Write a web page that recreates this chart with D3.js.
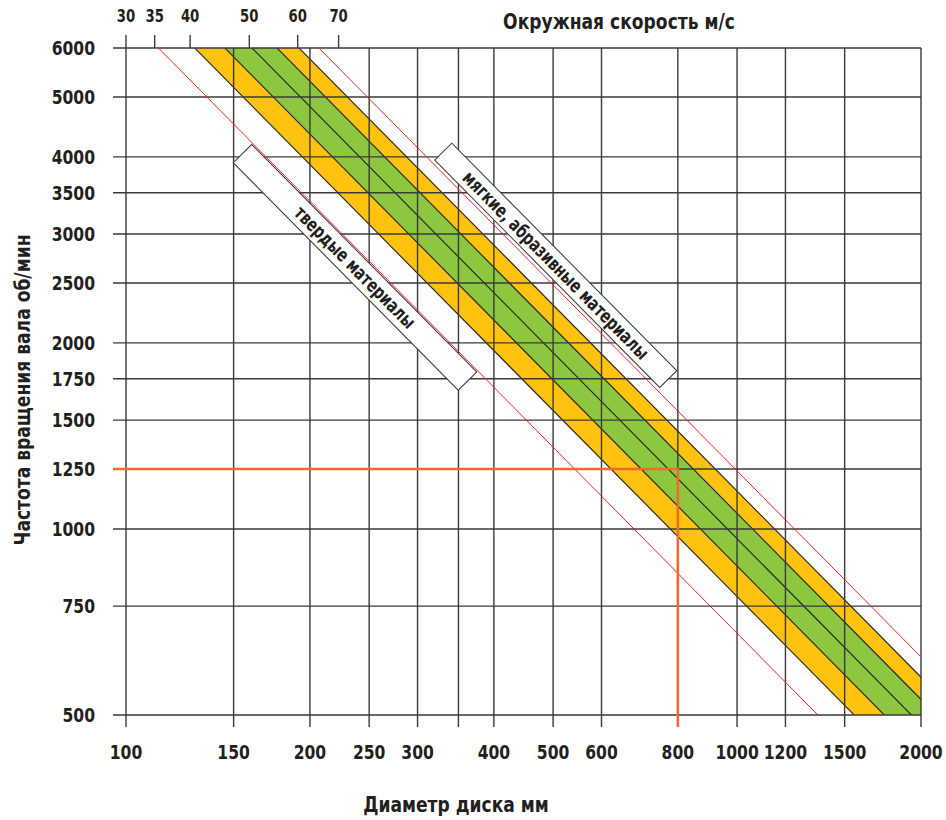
<!DOCTYPE html>
<html>
<head>
<meta charset="utf-8">
<script src="https://cdn.jsdelivr.net/npm/d3@7"></script>
<style>
	body { margin: 0; background: #fff; }
	svg text { font-family: "Liberation Sans Narrow", "Arial Narrow", "DejaVu Sans Condensed", sans-serif; fill: #231f20; }
</style>
</head>
<body>
<svg width="946" height="820"></svg>
<script>
// diameter (mm) grid + labels
var diameters = [100, 150, 200, 250, 300, 350, 400, 500, 600, 800, 1000, 1200, 1500, 2000];
var diameterLabels = ["100", "150", "200", "250", "300", "", "400", "500", "600", "800", "1000", "1200", "1500", "2000"];
// spindle speed (rpm) grid
var rpms = [6000, 5000, 4000, 3500, 3000, 2500, 2000, 1750, 1500, 1250, 1000, 750, 500];
// peripheral speed ticks on top (m/s)
var speedTicks = [30, 35, 40, 50, 60, 70];
// bands of peripheral speed, m/s
var yellowBands = [[40.7, 45.6], [55.5, 60.3]];
var greenBand = [45.6, 55.5];
var blackLines = [40.7, 45.6, 50.5, 55.5, 60.3];
var redLines = [35.5, 65];
// material labels, anchored at (diameter, rpm)
var labelText = ["твердые материалы", "мягкие, абразивные материалы"];
var labelDia = [237, 505];
var labelRpm = [2650, 2670];
// worked example
var exampleDia = 800, exampleRpm = 1250;

var svg = d3.select("svg");

var x = d3.scaleLog().domain([100, 2000]).range([126, 921]);
var y = d3.scaleLog().domain([500, 6000]).range([715, 48]);

var K = 60000 / Math.PI;
function rpmAt(v, d) { return v * K / d; }
function diaAt(v, n) { return v * K / n; }

// straight in log-log, two far points are enough, clip does the rest
function edge(v) {
	return [60, 4000].map(function(d) { return [x(d), y(rpmAt(v, d))]; });
}

// measure fonts so the narrow look survives a missing narrow face
function measure(str, size, weight) {
	var t = svg.append("text").style("font-size", size + "px").style("font-weight", weight).text(str);
	var w = t.node().getComputedTextLength();
	t.remove();
	return w;
}
var kBold = Math.max(0.6, Math.min(1.15, 232 / measure("Окружная скорость м/с", 22, "bold")));
var kReg = Math.max(0.6, Math.min(1.15, 163 / measure("твердые материалы", 19, "bold")));

function put(g, px, py, angle, str, size, weight, anchor, k) {
	return g.append("text")
		.attr("transform", "translate(" + px + "," + py + ") rotate(" + angle + ") scale(" + k + ",1)")
		.attr("text-anchor", anchor)
		.style("font-size", size + "px")
		.style("font-weight", weight)
		.text(str);
}

svg.append("clipPath")
	.attr("id", "plot")
	.append("rect")
	.attr("x", x(100))
	.attr("y", y(6000))
	.attr("width", x(2000) - x(100))
	.attr("height", y(500) - y(6000));

var bands = svg.append("g").attr("clip-path", "url(#plot)");

function band(v1, v2, color) {
	var pts = edge(v1).concat(edge(v2).reverse());
	bands.append("path")
		.attr("d", d3.line()(pts) + "Z")
		.attr("fill", color);
}
yellowBands.forEach(function(b) { band(b[0], b[1], "#ffc20e"); });
band(greenBand[0], greenBand[1], "#8dc63f");

bands.selectAll(".edge")
	.data(blackLines)
	.enter().append("path")
	.attr("class", "edge")
	.attr("d", function(v) { return d3.line()(edge(v)); })
	.attr("stroke", "#231f20")
	.attr("stroke-width", 1.1)
	.attr("fill", "none");

// grid
var grid = svg.append("g")
	.attr("stroke", "#3a3a3a")
	.attr("stroke-width", 1.4);

grid.selectAll(".h")
	.data(rpms)
	.enter().append("line")
	.attr("x1", 113)
	.attr("x2", x(2000))
	.attr("y1", function(d) { return y(d); })
	.attr("y2", function(d) { return y(d); });

grid.selectAll(".v")
	.data(diameters)
	.enter().append("line")
	.attr("x1", function(d) { return x(d); })
	.attr("x2", function(d) { return x(d); })
	.attr("y1", y(6000))
	.attr("y2", 727);

// top speed ticks
var speedX = function(v) { return x(Math.max(100, diaAt(v, 6000))); };
grid.selectAll(".s")
	.data(speedTicks)
	.enter().append("line")
	.attr("x1", speedX)
	.attr("x2", speedX)
	.attr("y1", 35)
	.attr("y2", y(6000));

// material labels
var labels = svg.append("g");
labelText.forEach(function(t, i) {
	var d = labelDia[i], n = labelRpm[i], v = d * n / K;
	var px = x(d), py = y(n);
	var angle = Math.atan2(y(rpmAt(v, d * 2)) - py, x(d * 2) - px) * 180 / Math.PI;
	var g = labels.append("g").attr("transform", "translate(" + px + "," + py + ") rotate(" + angle + ")");
	var h = i == 0 ? 26 : 24;
	g.append("rect")
		.attr("x", -160)
		.attr("y", -h / 2)
		.attr("width", 320)
		.attr("height", h)
		.attr("fill", "#fff")
		.attr("stroke", "#333")
		.attr("stroke-width", 1);
	put(g, 0, 6.5, 0, t, 19, "bold", "middle", kReg);
});

// red limits
svg.append("g")
	.attr("clip-path", "url(#plot)")
	.selectAll("path")
	.data(redLines)
	.enter().append("path")
	.attr("d", function(v) { return d3.line()(edge(v)); })
	.attr("stroke", "#ed2227")
	.attr("stroke-width", 1)
	.attr("fill", "none");

// example: 800 mm at 1250 rpm
svg.append("path")
	.attr("d", d3.line()([[113, y(exampleRpm)], [x(exampleDia), y(exampleRpm)], [x(exampleDia), 727]]))
	.attr("stroke", "#ef6a2b")
	.attr("stroke-width", 2.6)
	.attr("fill", "none");

// tick labels
var txt = svg.append("g");
rpms.forEach(function(n) {
	put(txt, 95, y(n) + 7, 0, n, 20, "bold", "end", kBold);
});
diameters.forEach(function(d, i) {
	put(txt, x(d), 759, 0, diameterLabels[i], 20, "bold", "middle", kBold);
});
speedTicks.forEach(function(v) {
	put(txt, speedX(v), 22, 0, v, 17, "bold", "middle", kBold);
});

// axis titles
put(txt, 619, 29, 0, "Окружная скорость м/с", 22, "bold", "middle", kBold);
put(txt, 456, 812, 0, "Диаметр диска мм", 22, "bold", "middle", kBold);
put(txt, 30, 390, -90, "Частота вращения вала об/мин", 22, "bold", "middle", kBold);
</script>
</body>
</html>
